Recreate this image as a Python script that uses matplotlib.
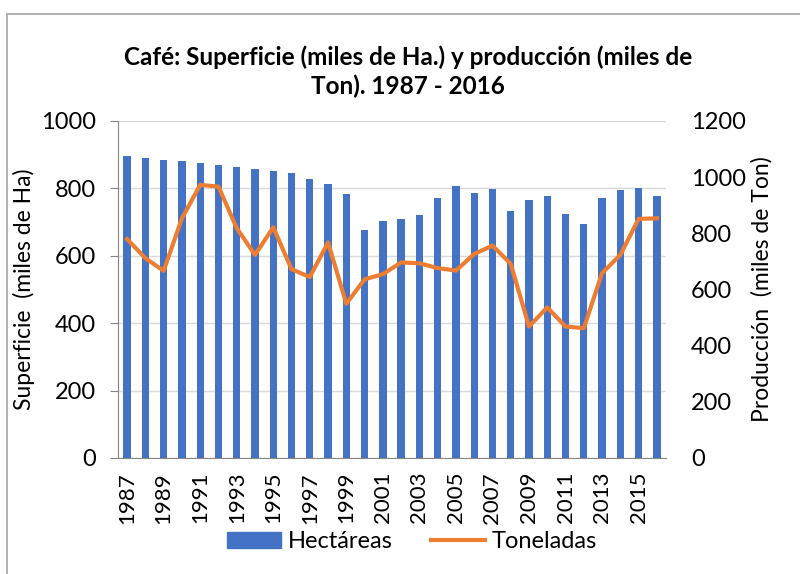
import matplotlib
matplotlib.use("Agg")
import matplotlib.pyplot as plt
from matplotlib.lines import Line2D
import numpy as np

years = list(range(1987, 2017))
hectareas = [896, 890, 884, 880, 874, 868, 862, 856, 852, 846,
             828, 812, 782, 675, 704, 709, 720, 770, 806, 785,
             797, 732, 764, 776, 723, 695, 770, 795, 800, 776]
toneladas = [779, 711, 666, 853, 972, 966, 818, 723, 821, 672,
             644, 767, 549, 636, 654, 696, 693, 676, 667, 726,
             756, 691, 468, 536, 468, 462, 658, 723, 851, 853]
tick_labels = [str(y) if (y - 1987) % 2 == 0 else "" for y in years]

title = "Café: Superficie (miles de Ha.) y producción (miles de\nTon). 1987 - 2016"
left_label = "Superficie  (miles de Ha)"
right_label = "Producción  (miles de Ton)"

plt.rcParams['font.family'] = ['Lato', 'DejaVu Sans']

fig = plt.figure(figsize=(8, 5.74), dpi=100)
ax = fig.add_axes([0.1475, 0.2021, 0.685, 0.5874])
x = np.arange(len(years))
ax.bar(x, hectareas, width=0.4, color='#4472C4', zorder=2)
ax.set_xlim(-0.5, len(years) - 0.5)
ax.set_ylim(0, 1000)
ax.set_yticks(range(0, 1001, 200))
ax.yaxis.grid(True, color='#D9D9D9', lw=1, zorder=0)
ax.set_axisbelow(True)
ax.set_xticks(x)
ax.set_xticklabels(tick_labels, rotation=90, fontsize=16)
ax.tick_params(axis='x', length=0, pad=10)
ax.tick_params(axis='y', labelsize=17, length=6, color='#868686', pad=10)
for s in ['top', 'right']:
    ax.spines[s].set_visible(False)
ax.spines['left'].set_color('#868686')
ax.spines['bottom'].set_color('#868686')
ax.set_ylabel(left_label, fontsize=16.5, labelpad=4)

ax2 = ax.twinx()
ax2.plot(x, toneladas, color='#ED7D31', lw=3, zorder=3, solid_joinstyle='round')
ax2.set_ylim(0, 1200)
ax2.set_yticks(range(0, 1201, 200))
ax2.tick_params(axis='y', labelsize=17, length=0, pad=18)
for s in ['top', 'right', 'left', 'bottom']:
    ax2.spines[s].set_visible(False)
ax2.set_ylabel(right_label, fontsize=16.5, labelpad=4)

fig.text(0.51, 0.875, title, ha='center', va='center', fontsize=17.5,
         fontweight='bold', linespacing=1.3)

handles = [plt.Rectangle((0, 0), 1, 1, color='#4472C4'),
           Line2D([0], [0], color='#ED7D31', lw=3)]
fig.legend(handles, ['Hectáreas', 'Toneladas'], loc='center',
           bbox_to_anchor=(0.515, 0.056), ncol=2, frameon=False,
           fontsize=17, handlelength=2.3, handletextpad=0.3,
           columnspacing=1.6)

# outer chart border
fig.add_artist(Line2D([7/800, 7/800], [0, 1 - 14/574], transform=fig.transFigure,
                      color='#A6A6A6', lw=1.2))
fig.add_artist(Line2D([7/800, 1], [1 - 14/574, 1 - 14/574], transform=fig.transFigure,
                      color='#A6A6A6', lw=1.2))

fig.savefig('out.png', dpi=100)
